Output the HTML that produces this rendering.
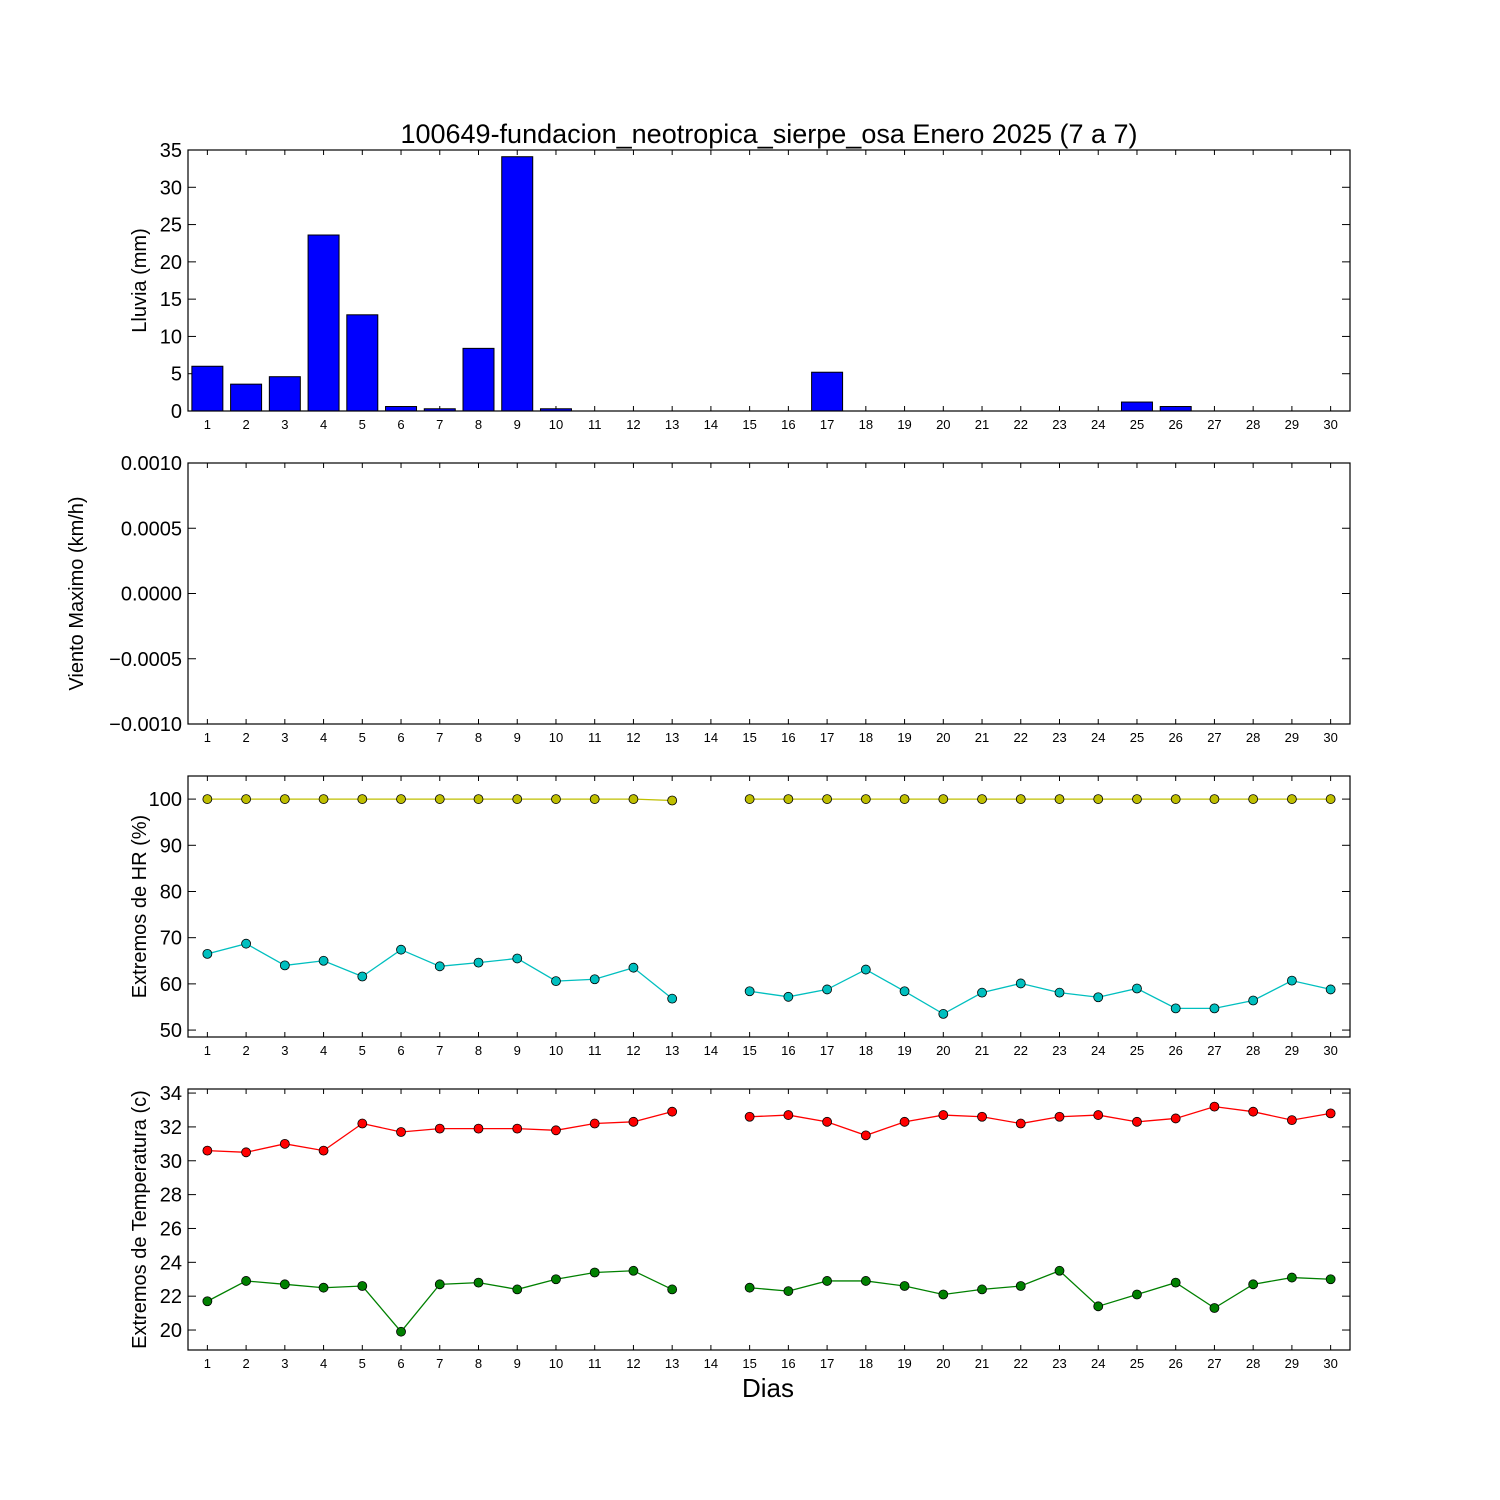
<!DOCTYPE html>
<html><head><meta charset="utf-8"><style>
body{margin:0;background:#fff;}
svg{display:block;font-family:"Liberation Sans","DejaVu Sans",sans-serif;}
</style></head><body>
<svg id="chart" width="1500" height="1500" viewBox="0 0 1500 1500">
<text x="769" y="143" font-size="27" text-anchor="middle">100649-fundacion_neotropica_sierpe_osa Enero 2025  (7 a 7)</text>
<text x="768" y="1397" font-size="26" text-anchor="middle">Dias</text>
</svg>
<script>
const days = Array.from({length:30},(_,i)=>i+1);
const rain = [6.0,3.6,4.6,23.6,12.9,0.6,0.3,8.4,34.1,0.3,0,0,0,0,0,0,5.2,0,0,0,0,0,0,0,1.2,0.6,0,0,0,0];
const hrMax = [100,100,100,100,100,100,100,100,100,100,100,100,99.7,null,100,100,100,100,100,100,100,100,100,100,100,100,100,100,100,100];
const hrMin = [66.5,68.7,64,65,61.6,67.4,63.8,64.6,65.5,60.6,61,63.5,56.8,null,58.4,57.2,58.8,63.1,58.4,53.5,58.1,60.1,58.1,57.1,59,54.7,54.7,56.4,60.7,58.8];
const tMax = [30.6,30.5,31,30.6,32.2,31.7,31.9,31.9,31.9,31.8,32.2,32.3,32.9,null,32.6,32.7,32.3,31.5,32.3,32.7,32.6,32.2,32.6,32.7,32.3,32.5,33.2,32.9,32.4,32.8];
const tMin = [21.7,22.9,22.7,22.5,22.6,19.9,22.7,22.8,22.4,23,23.4,23.5,22.4,null,22.5,22.3,22.9,22.9,22.6,22.1,22.4,22.6,23.5,21.4,22.1,22.8,21.3,22.7,23.1,23];
const rainTicks = [0,5,10,15,20,25,30,35];
const windTicks = ["0.0010","0.0005","0.0000","\u22120.0005","\u22120.0010"];
const hrTicks = [50,60,70,80,90,100];
const tTicks = [20,22,24,26,28,30,32,34];

const NS="http://www.w3.org/2000/svg";
const svg=document.getElementById('chart');
const L=188,R=1350;
function el(tag,attrs,parent){const e=document.createElementNS(NS,tag);for(const k in attrs)e.setAttribute(k,attrs[k]);(parent||svg).appendChild(e);return e;}
const xs=d=>L+(d-0.5)*(R-L)/30;

function panel(name,top,bot,ymin,ymax,ticks,ylabel,tickLabels){
  const g=el('g',{});
  
  
  const ys=v=>bot-(v-ymin)/(ymax-ymin)*(bot-top);
  // ticks x
  days.forEach(d=>{
    const x=xs(d);
    el('line',{x1:x,x2:x,y1:bot,y2:bot-5,stroke:'#000'},g);
    el('line',{x1:x,x2:x,y1:top,y2:top+5,stroke:'#000'},g);
    const t=el('text',{x:x,y:bot+18,'font-size':13,'text-anchor':'middle'},g);
    
    
    t.textContent=d;
  });
  ticks.forEach((v,i)=>{
    const y=ys(v);
    el('line',{x1:L,x2:L+8,y1:y,y2:y,stroke:'#000'},g);
    el('line',{x1:R,x2:R-8,y1:y,y2:y,stroke:'#000'},g);
    const t=el('text',{x:L-6,y:y+7,'font-size':20,'text-anchor':'end'},g);
    
    
    t.textContent=tickLabels?tickLabels[i]:v;
  });
  const cy=(top+bot)/2;
  const yl=el('text',{x:0,y:0,'font-size':20,'text-anchor':'middle',transform:`translate(${name==='wind'?83:146},${cy}) rotate(-90)`},g);
  
  
  yl.textContent=ylabel;
  return {g,ys,top,bot};
}
function frame(p){el('rect',{x:L,y:p.top,width:R-L,height:p.bot-p.top,fill:'none',stroke:'#000','stroke-width':1.2},p.g);}

function series(p,vals,color,name){
  let segs=[],cur=[];
  vals.forEach((v,i)=>{if(v==null){if(cur.length)segs.push(cur);cur=[];}else cur.push([xs(days[i]),p.ys(v)]);});
  if(cur.length)segs.push(cur);
  segs.forEach(s=>{
    const pl=el('polyline',{points:s.map(q=>q.join(',')).join(' '),fill:'none',stroke:color,'stroke-width':1.3},p.g);
    
    
  });
  vals.forEach((v,i)=>{if(v==null)return;
    const c=el('circle',{cx:xs(days[i]),cy:p.ys(v),r:4.5,fill:color,stroke:'#000','stroke-width':0.8},p.g);
    
    
  });
}

// Rain
const p1=panel('rain',150,411,0,35,rainTicks,'Lluvia (mm)');
rain.forEach((v,i)=>{
  const w=0.8*(R-L)/30, x=xs(days[i])-w/2, y=p1.ys(v);
  const b=el('rect',{x:x,y:y,width:w,height:p1.bot-y,fill:'#0000ff',stroke:'#000','stroke-width':1},p1.g);
  
  
});
frame(p1);
// Wind
const p2=panel('wind',463,724,-0.001,0.001,[0.001,0.0005,0,-0.0005,-0.001],'Viento Maximo (km/h)',windTicks);
frame(p2);
// HR
const p3=panel('hr',776,1037,48.5,105,hrTicks,'Extremos de HR (%)');
series(p3,hrMax,'#bfbf00','hr-max');
series(p3,hrMin,'#00bfbf','hr-min');
frame(p3);
// Temp
const p4=panel('temp',1089,1350,18.82,34.24,tTicks,'Extremos de Temperatura (c)');
series(p4,tMax,'#ff0000','temp-max');
series(p4,tMin,'#008000','temp-min');
frame(p4);
</script>
</body></html>
